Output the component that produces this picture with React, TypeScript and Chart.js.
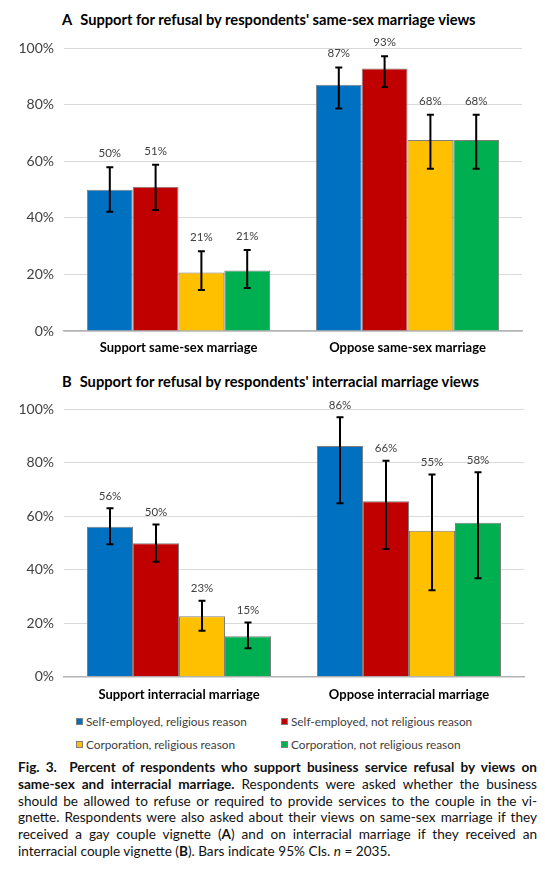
import React, { useEffect, useRef } from "react";
import { Chart, registerables } from "chart.js";

Chart.register(...registerables);

const FONT = "Lato, 'Open Sans', sans-serif";

// ---- data ----
const seriesNames = [
  "Self-employed, religious reason",
  "Self-employed, not religious reason",
  "Corporation, religious reason",
  "Corporation, not religious reason",
];
const seriesColors = ["#0070C0", "#C00000", "#FFC000", "#00B050"];
const yTickValues = [0, 20, 40, 60, 80, 100];

// Panel A
const categoriesA = ["Support same-sex marriage", "Oppose same-sex marriage"];
const selfRelA = [50.0, 87.1];
const selfRelA_low = [42.2, 78.7];
const selfRelA_high = [57.9, 93.2];
const selfNotA = [51.0, 92.9];
const selfNotA_low = [42.8, 86.3];
const selfNotA_high = [58.8, 97.2];
const corpRelA = [20.7, 67.6];
const corpRelA_low = [14.5, 57.4];
const corpRelA_high = [28.2, 76.5];
const corpNotA = [21.4, 67.6];
const corpNotA_low = [15.2, 57.4];
const corpNotA_high = [28.7, 76.5];

// Panel B
const categoriesB = ["Support interracial marriage", "Oppose interracial marriage"];
const selfRelB = [56.1, 86.3];
const selfRelB_low = [49.5, 64.9];
const selfRelB_high = [63.0, 97.0];
const selfNotB = [49.9, 65.6];
const selfNotB_low = [43.0, 47.8];
const selfNotB_high = [56.9, 80.8];
const corpRelB = [22.6, 54.6];
const corpRelB_low = [17.2, 32.3];
const corpRelB_high = [28.4, 75.6];
const corpNotB = [15.1, 57.6];
const corpNotB_low = [10.6, 36.8];
const corpNotB_high = [20.3, 76.5];

type PanelProps = {
  categories: string[];
  values: number[][];
  lows: number[][];
  highs: number[][];
  top: number;
  height: number;
  padTop: number;
  padRight: number;
  xHeight: number;
  xTickPad: number;
  labelOffset: number;
};

function Panel(props: PanelProps) {
  const ref = useRef<HTMLCanvasElement | null>(null);
  useEffect(() => {
    if (!ref.current) return;
    const errorBars = {
      id: "errorBars",
      afterDatasetsDraw(chart: any) {
        const ctx = chart.ctx;
        const yScale = chart.scales.y;
        chart.data.datasets.forEach((ds: any, i: number) => {
          const meta = chart.getDatasetMeta(i);
          meta.data.forEach((bar: any, j: number) => {
            const x = bar.x;
            const yH = yScale.getPixelForValue(ds.errHigh[j]);
            const yL = yScale.getPixelForValue(ds.errLow[j]);
            ctx.save();
            ctx.strokeStyle = "#000000";
            ctx.lineWidth = 2;
            ctx.beginPath();
            ctx.moveTo(x, yH);
            ctx.lineTo(x, yL);
            ctx.moveTo(x - 3.5, yH);
            ctx.lineTo(x + 3.5, yH);
            ctx.moveTo(x - 3.5, yL);
            ctx.lineTo(x + 3.5, yL);
            ctx.stroke();
            ctx.fillStyle = "#404040";
            ctx.font = `11.5px ${FONT}`;
            ctx.textAlign = "center";
            ctx.textBaseline = "middle";
            ctx.fillText(Math.round(ds.data[j]) + "%", x, yH - props.labelOffset);
            ctx.restore();
          });
        });
      },
    };
    const chart = new Chart(ref.current, {
      type: "bar",
      data: {
        labels: props.categories,
        datasets: props.values.map((v, i) => ({
          label: seriesNames[i],
          data: v,
          errLow: props.lows[i],
          errHigh: props.highs[i],
          backgroundColor: seriesColors[i],
          borderColor: "#7f7f7f",
          borderWidth: 1,
          categoryPercentage: 0.8,
          barPercentage: 1.0,
        })) as any,
      },
      options: {
        animation: false,
        responsive: false,
        devicePixelRatio: 1,
        layout: { padding: { top: props.padTop, right: props.padRight, left: 0, bottom: 0 } },
        plugins: { legend: { display: false }, title: { display: false }, tooltip: { enabled: false } },
        scales: {
          x: {
            grid: { display: false, drawTicks: false },
            border: { display: true, color: "#b3b3b3", width: 1.5 },
            ticks: {
              padding: props.xTickPad,
              color: "#000000",
              font: { family: FONT, size: 13, weight: "bold" },
            },
            afterFit(scale: any) {
              scale.height = props.xHeight;
            },
          },
          y: {
            min: 0,
            max: 100,
            afterBuildTicks(scale: any) {
              scale.ticks = yTickValues.map((v) => ({ value: v }));
            },
            grid: { color: "#d9d9d9", lineWidth: 1, drawTicks: false },
            border: { display: false },
            ticks: {
              padding: 10,
              color: "#404040",
              font: { family: FONT, size: 14 },
              callback: (v: any) => v + "%",
            },
            afterFit(scale: any) {
              scale.width = 64;
            },
          },
        },
      },
      plugins: [errorBars],
    } as any);
    return () => chart.destroy();
  }, []);
  return (
    <canvas
      ref={ref}
      width={545}
      height={props.height}
      style={{ position: "absolute", left: 0, top: props.top, width: 545, height: props.height }}
    />
  );
}

const titleStyle = (top: number): React.CSSProperties => ({
  position: "absolute",
  top,
  left: 62,
  font: `bold 14.7px ${FONT}`,
  lineHeight: "17px",
  color: "#000",
  whiteSpace: "nowrap",
});

function LegendItem({ idx, left, top }: { idx: number; left: number; top: number }) {
  return (
    <div style={{ position: "absolute", left, top, height: 14, display: "flex", alignItems: "center", whiteSpace: "nowrap" }}>
      <span
        style={{
          display: "inline-block",
          width: 7,
          height: 7,
          background: seriesColors[idx],
          border: "1px solid #7f7f7f",
          boxSizing: "border-box",
          marginRight: 3,
        }}
      />
      <span style={{ font: `11.8px ${FONT}`, color: "#404040" }}>{seriesNames[idx]}</span>
    </div>
  );
}

const captionLine: React.CSSProperties = {
  textAlign: "justify",
  textAlignLast: "justify" as any,
  whiteSpace: "nowrap",
};

export default function App() {
  return (
    <div style={{ position: "absolute", left: 0, top: 0, width: 545, height: 881, background: "#fff" }}>
      <div style={titleStyle(11)}>
        <span>A</span>
        <span style={{ marginLeft: 8 }}>Support for refusal by respondents' same-sex marriage views</span>
      </div>
      <Panel
        categories={categoriesA}
        values={[selfRelA, selfNotA, corpRelA, corpNotA]}
        lows={[selfRelA_low, selfNotA_low, corpRelA_low, corpNotA_low]}
        highs={[selfRelA_high, selfNotA_high, corpRelA_high, corpNotA_high]}
        top={30}
        height={330}
        padTop={16}
        padRight={23}
        xHeight={29}
        xTickPad={9}
        labelOffset={14}
      />
      <div style={titleStyle(373)}>
        <span>B</span>
        <span style={{ marginLeft: 8 }}>Support for refusal by respondents' interracial marriage views</span>
      </div>
      <Panel
        categories={categoriesB}
        values={[selfRelB, selfNotB, corpRelB, corpNotB]}
        lows={[selfRelB_low, selfNotB_low, corpRelB_low, corpNotB_low]}
        highs={[selfRelB_high, selfNotB_high, corpRelB_high, corpNotB_high]}
        top={380}
        height={330}
        padTop={29.3}
        padRight={21}
        xHeight={33.3}
        xTickPad={10}
        labelOffset={12}
      />
      <LegendItem idx={0} left={76} top={714} />
      <LegendItem idx={1} left={281} top={714} />
      <LegendItem idx={2} left={76} top={737} />
      <LegendItem idx={3} left={281} top={737} />
      <div
        style={{
          position: "absolute",
          left: 18,
          top: 759,
          width: 519,
          font: `13.6px ${FONT}`,
          lineHeight: "16.8px",
          color: "#111",
        }}
      >
        <div style={captionLine}>
          <b>Fig. 3.&nbsp; Percent of respondents who support business service refusal by views on</b>
        </div>
        <div style={captionLine}>
          <b>same-sex and interracial marriage.</b> Respondents were asked whether the business
        </div>
        <div style={captionLine}>
          should be allowed to refuse or required to provide services to the couple in the vi-
        </div>
        <div style={captionLine}>
          gnette. Respondents were also asked about their views on same-sex marriage if they
        </div>
        <div style={captionLine}>
          received a gay couple vignette (<b>A</b>) and on interracial marriage if they received an
        </div>
        <div style={{ textAlign: "left", whiteSpace: "nowrap" }}>
          interracial couple vignette (<b>B</b>). Bars indicate 95% CIs. <i>n</i> = 2035.
        </div>
      </div>
    </div>
  );
}
